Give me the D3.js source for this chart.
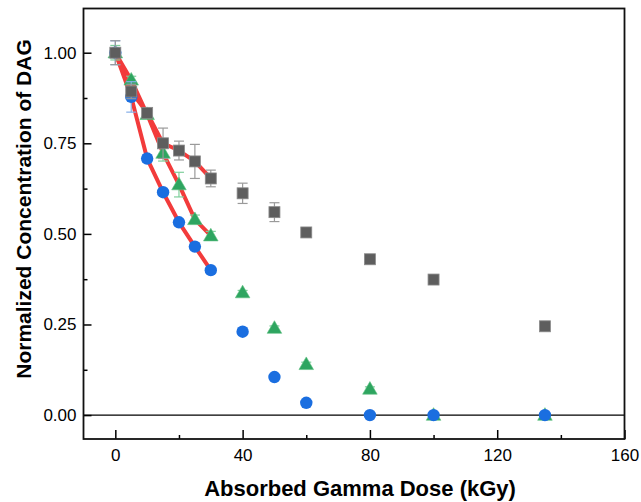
<!DOCTYPE html>
<html>
<head>
<meta charset="utf-8">
<script src="https://cdn.jsdelivr.net/npm/d3@7"></script>
<style>
  body { margin: 0; background: #fff; }
  text { font-family: "Liberation Sans", Arial, sans-serif; }
</style>
</head>
<body>
<svg id="chart" width="641" height="502"></svg>
<script>
// dose values (kGy)
var dose = [0, 5, 10, 15, 20, 25, 30, 40, 50, 60, 80, 100, 135];

// normalized DAG concentration, one array per series
var grayVals  = [1.0, 0.893, 0.834, 0.75, 0.73, 0.70, 0.653, 0.612, 0.56, 0.504, 0.43, 0.374, 0.245];
var grayErr   = [0.033, 0.02, 0.01, 0.042, 0.026, 0.047, 0.023, 0.028, 0.026, 0.006, 0.006, 0.006, 0.012];
var greenVals = [1.0, 0.925, 0.83, 0.723, 0.636, 0.54, 0.495, 0.338, 0.24, 0.14, 0.072, 0.0, 0.0];
var greenErr  = [0.02, 0.01, 0.01, 0.022, 0.034, 0.012, 0.012, 0.006, 0.006, 0.006, 0.006, 0.006, 0.006];
var blueVals  = [1.0, 0.878, 0.708, 0.615, 0.532, 0.465, 0.40, 0.23, 0.105, 0.034, 0.0, 0.0, 0.0];
var blueErr   = [0.033, 0.042, 0.01, 0.008, 0.008, 0.008, 0.006, 0.006, 0.006, 0.006, 0.006, 0.006, 0.006];

// red lines join the first 7 points (0–30 kGy) of each series
var lineCount = 7;

var xTicks = [0, 40, 80, 120, 160];
var xMinor = [20, 60, 100, 140];
var yTicks = [0, 0.25, 0.5, 0.75, 1.0];
var yMinor = [0.125, 0.375, 0.625, 0.875];

var svg = d3.select("#chart");
var pLeft = 83.5, pRight = 624.5, pTop = 8.5, pBottom = 439;

var x = d3.scaleLinear().domain([-10, 160]).range([pLeft, pRight]);
var y = d3.scaleLinear().domain([-0.066, 1.122]).range([pBottom, pTop]);

// zero line
svg.append("line")
  .attr("x1", pLeft).attr("x2", pRight)
  .attr("y1", y(0)).attr("y2", y(0))
  .attr("stroke", "#000").attr("stroke-width", 1.3);

// axes with inward ticks
svg.append("g")
  .attr("transform", "translate(0," + pBottom + ")")
  .call(d3.axisBottom(x).tickValues(xMinor).tickSize(-4).tickFormat(""))
  .call(function(g) { g.select(".domain").remove(); })
  .selectAll("line").attr("stroke-width", 1.5);
var xg = svg.append("g")
  .attr("transform", "translate(0," + pBottom + ")")
  .call(d3.axisBottom(x).tickValues(xTicks).tickSize(-9).tickPadding(10).tickFormat(d3.format("d")));
xg.select(".domain").remove();
xg.selectAll("line").attr("stroke-width", 1.5);
xg.selectAll("text").attr("font-size", 17).attr("fill", "#000")
  .attr("font-family", "Liberation Sans, Arial, sans-serif");

svg.append("g")
  .attr("transform", "translate(" + pLeft + ",0)")
  .call(d3.axisLeft(y).tickValues(yMinor).tickSize(-4).tickFormat(""))
  .call(function(g) { g.select(".domain").remove(); })
  .selectAll("line").attr("stroke-width", 1.5);
var yg = svg.append("g")
  .attr("transform", "translate(" + pLeft + ",0)")
  .call(d3.axisLeft(y).tickValues(yTicks).tickSize(-8).tickPadding(7).tickFormat(d3.format(".2f")));
yg.select(".domain").remove();
yg.selectAll("line").attr("stroke-width", 1.5);
yg.selectAll("text").attr("font-size", 17).attr("fill", "#000")
  .attr("font-family", "Liberation Sans, Arial, sans-serif");

// frame
svg.append("rect")
  .attr("x", pLeft).attr("y", pTop)
  .attr("width", pRight - pLeft).attr("height", pBottom - pTop)
  .attr("fill", "none").attr("stroke", "#111").attr("stroke-width", 1.8);

// red lines (drawn beneath markers)
var redLine = d3.line()
  .x(function(d) { return x(d[0]); })
  .y(function(d) { return y(d[1]); });
[grayVals, greenVals, blueVals].forEach(function(vals) {
  svg.append("path")
    .datum(dose.slice(0, lineCount).map(function(d, i) { return [d, vals[i]]; }))
    .attr("d", redLine)
    .attr("fill", "none")
    .attr("stroke", "#f23b3b")
    .attr("stroke-width", 4)
    .attr("stroke-linejoin", "round")
    .attr("stroke-linecap", "round");
});

function errorBars(vals, errs, color) {
  var g = svg.append("g").attr("stroke", color).attr("stroke-width", 1.2);
  dose.forEach(function(d, i) {
    var cx = x(d), y1 = y(vals[i] + errs[i]), y2 = y(vals[i] - errs[i]);
    g.append("line").attr("x1", cx).attr("x2", cx).attr("y1", y1).attr("y2", y2);
    g.append("line").attr("x1", cx - 5).attr("x2", cx + 5).attr("y1", y1).attr("y2", y1);
    g.append("line").attr("x1", cx - 5).attr("x2", cx + 5).attr("y1", y2).attr("y2", y2);
  });
}

// green triangles
errorBars(greenVals, greenErr, "#7fcf9c");
svg.append("g").selectAll("path")
  .data(dose)
  .enter().append("path")
    .attr("d", d3.symbol().type(d3.symbolTriangle).size(92))
    .attr("transform", function(d, i) { return "translate(" + x(d) + "," + (y(greenVals[i]) + 1) + ")"; })
    .attr("fill", "#2ea560")
    .attr("stroke", "#5cbf80").attr("stroke-width", 0.6);

// blue circles
errorBars(blueVals, blueErr, "#86aee8");
svg.append("g").selectAll("circle")
  .data(dose)
  .enter().append("circle")
    .attr("cx", function(d) { return x(d); })
    .attr("cy", function(d, i) { return y(blueVals[i]); })
    .attr("r", 6.2)
    .attr("fill", "#1a6ee0");

// gray squares
errorBars(grayVals, grayErr, "#9a9a9a");
svg.append("g").selectAll("rect")
  .data(dose)
  .enter().append("rect")
    .attr("x", function(d) { return x(d) - 5.5; })
    .attr("y", function(d, i) { return y(grayVals[i]) - 5.5; })
    .attr("width", 11).attr("height", 11)
    .attr("fill", "#5e5e5e")
    .attr("stroke", "#8a8a8a").attr("stroke-width", 0.8);

// axis titles
svg.append("text")
  .attr("x", 360).attr("y", 496)
  .attr("text-anchor", "middle")
  .attr("font-size", 22).attr("font-weight", "bold")
  .text("Absorbed Gamma Dose (kGy)");
svg.append("text")
  .attr("transform", "translate(31,209) rotate(-90)")
  .attr("text-anchor", "middle")
  .attr("font-size", 21).attr("font-weight", "bold")
  .text("Normalized Concentration of DAG");
</script>
</body>
</html>
